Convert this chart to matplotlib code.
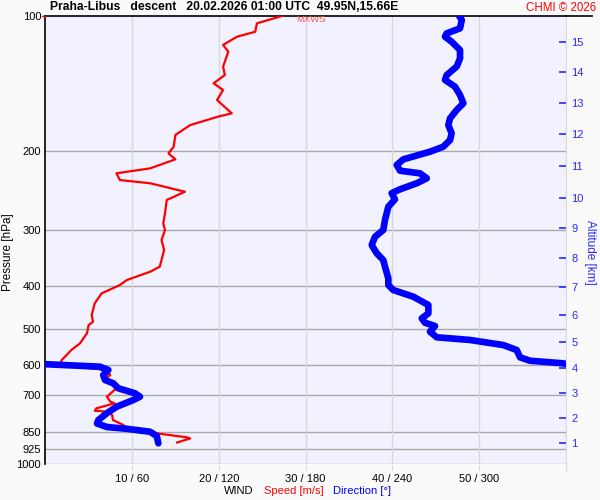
import matplotlib
matplotlib.use('Agg')
import matplotlib.pyplot as plt
from matplotlib.lines import Line2D
from matplotlib.ticker import NullLocator, FixedFormatter

plt.rcParams['font.family'] = ['Liberation Sans', 'DejaVu Sans']

# wind speed profile (pressure hPa, speed m/s)
spd_p = [100, 104.0, 108.6, 111.4, 116.2, 120.3, 129.9, 135.6, 141.5, 146.5,
         154.2, 165.1, 168.0, 175.4, 184.5, 196.0, 202.8, 209.1, 219.0, 224.7,
         232.6, 236.5, 247.0, 257.7, 275.9, 290.4, 300.6, 316.4, 333.1, 363.0,
         372.4, 388.7, 398.8, 416.2, 438.1, 465.3, 481.6, 489.8, 511.0, 538.1,
         556.9, 586.2, 598.4, 606.7, 614.9, 622.5, 633.2, 649.6, 660.7, 677.8,
         707.8, 726.1, 732.2, 751.2, 760.5, 764.4, 777.5, 797.8, 818.4, 836.7,
         854.1, 871.8, 877.2, 895.4]
spd_v = [27.4, 24.4, 24.2, 22.1, 20.5, 21.1, 20.5, 20.7, 19.4, 20.5,
         19.8, 21.5, 19.9, 16.7, 15.0, 14.8, 14.2, 15.0, 12.1, 8.2,
         8.6, 12.1, 16.1, 14.0, 13.8, 13.6, 13.8, 13.4, 13.7, 13.2,
         12.1, 9.4, 8.6, 6.5, 5.7, 5.35, 5.5, 5.0, 4.8, 4.0,
         3.0, 1.9, 1.7, 3.6, 6.3, 7.1, 7.5, 6.7, 7.5, 8.2,
         7.1, 7.5, 8.0, 5.9, 5.7, 7.1, 7.7, 7.8, 9.0, 9.6,
         12.8, 16.3, 16.7, 15.2]

# wind direction, upper part (before wrapping through north)
dir_p_up = [100, 102.2, 106.7, 109.5, 111.4, 114.3, 119.3, 124.5, 129.9, 135.6,
            139.1, 144.0, 150.3, 156.8, 162.3, 169.4, 175.4, 182.9, 189.4, 196.0,
            201.1, 209.1, 215.3, 221.7, 224.7, 230.5, 236.5, 243.9, 248.9, 256.8,
            266.7, 285.5, 300.6, 311.2, 324.8, 338.8, 350.8, 363.0, 385.3, 398.8,
            409.2, 423.5, 441.9, 461.3, 473.2, 484.1, 492.4, 506.8, 521.6, 528.9,
            542.8, 556.9, 578.1, 588.4, 596.3, 598.0]
dir_v_up = [286.2, 288.1, 286.9, 277.7, 276.5, 281.1, 286.9, 286.9, 284.6, 277.7,
            276.5, 283.4, 286.9, 289.2, 284.6, 280.0, 278.8, 281.1, 280.0, 275.3,
            266.1, 247.7, 243.1, 245.4, 259.2, 263.9, 256.9, 245.4, 239.6, 241.9,
            237.3, 235.0, 233.8, 228.1, 225.8, 229.3, 233.8, 235.0, 237.3, 237.3,
            240.7, 254.6, 265.0, 265.0, 260.4, 262.7, 269.6, 266.1, 270.8, 293.8,
            316.8, 326.1, 328.4, 335.3, 358.4, 360.0]

# wind direction, lower part
dir_p_lo = [599.0, 606.7, 617.0, 633.2, 649.6, 660.7, 677.8, 695.6, 707.8, 719.8,
            745.1, 770.7, 797.8, 812.2, 826.9, 834.6, 847.2, 866.0, 899.1]
dir_v_lo = [0.5, 37.8, 43.6, 40.1, 41.3, 47.0, 50.5, 62.1, 65.5, 60.9,
            49.4, 42.5, 36.7, 35.8, 42.5, 56.3, 72.4, 77.1, 78.2]

p_ticks = [100, 200, 300, 400, 500, 600, 700, 850, 925, 1000]
spd_ticks = [10, 20, 30, 40, 50]
x_labels = ['10 / 60', '20 / 120', '30 / 180', '40 / 240', '50 / 300']

alt_km = list(range(1, 16))
alt_p = [899.1, 790.8, 695.7, 611.6, 535.3, 465.3, 402.3, 347.7, 298.1,
         254.7, 216.4, 183.6, 156.8, 133.3, 114.3]

BLUE = '#0000FF'
LBLUE = '#2828FF'
GRID_H = '#A8A8A8'
GRID_V = '#D8D8D8'

fig = plt.figure(figsize=(6, 5), dpi=100, facecolor='#FAFAFA')
x0, x1 = 45.3, 565.7
y0, y1 = 15.7, 464.0
ax = fig.add_axes([x0 / 600, 1 - y1 / 500, (x1 - x0) / 600, (y1 - y0) / 500])
ax.set_facecolor('#F2F2FF')
ax.set_yscale('log')
ax.set_ylim(1000, 100)
ax.set_xlim(0, 60)

axd = ax.twiny()
axa = ax.twinx()

ax.set_yticks(p_ticks)
ax.yaxis.set_major_formatter(FixedFormatter([str(p) for p in p_ticks]))
ax.yaxis.set_minor_locator(NullLocator())
ax.tick_params(axis='y', labelsize=8, length=0, pad=3)
ax.set_xticks(spd_ticks)
ax.set_xticklabels(x_labels, fontsize=8)
ax.tick_params(axis='x', length=4, color=GRID_V, pad=3)

for p in p_ticks[1:]:
    ax.axhline(p, color=GRID_H, lw=1, zorder=1)
for s in spd_ticks:
    ax.axvline(s, color=GRID_V, lw=1, zorder=1)

for side in ['bottom', 'right']:
    ax.spines[side].set_visible(False)
ax.spines['left'].set_color('black')
ax.spines['left'].set_linewidth(1.2)
ax.spines['top'].set_color('black')
ax.spines['top'].set_linewidth(1.2)

ax.plot(spd_v, spd_p, color='red', lw=1.6, zorder=3)

# direction on its own 0-360 scale
axd.set_xlim(0, 360)
axd.plot(dir_v_up, dir_p_up, color=BLUE, lw=4.8, solid_capstyle='round',
         solid_joinstyle='round', zorder=4)
axd.plot(dir_v_lo, dir_p_lo, color=BLUE, lw=4.8, solid_capstyle='round',
         solid_joinstyle='round', zorder=4)
axd.set_xticks([])
for s in axd.spines.values():
    s.set_visible(False)

# altitude axis on the right
axa.set_yscale('log')
axa.set_ylim(1000, 100)
axa.set_yticks(alt_p)
axa.yaxis.set_major_formatter(FixedFormatter([str(a) for a in alt_km]))
axa.yaxis.set_minor_locator(NullLocator())
axa.tick_params(axis='y', direction='in', length=5, width=1.2, color=LBLUE,
                labelcolor=LBLUE, labelsize=8, pad=4)
for side in ['top', 'left', 'bottom']:
    axa.spines[side].set_visible(False)
axa.spines['right'].set_color(GRID_V)

fig.text(8 / 600, 1 - 252 / 500, 'Pressure [hPa]', fontsize=8.5, rotation=90,
         va='center', ha='center')
fig.text(590 / 600, 1 - 252 / 500, 'Altitude [km]', fontsize=8.5, rotation=270,
         color=LBLUE, va='center', ha='center')

# small red mark at 100 hPa, right grid edge below plot, top line extension
fig.add_artist(Line2D([42 / 600, x0 / 600], [1 - y0 / 500, 1 - y0 / 500],
                      color='red', lw=1))
fig.add_artist(Line2D([x1 / 600, x1 / 600], [1 - 470 / 500, 1 - y1 / 500],
                      color=GRID_V, lw=1))
fig.add_artist(Line2D([x1 / 600, 592 / 600], [1 - y0 / 500, 1 - y0 / 500],
                      color='black', lw=1.2))

fig.text(50 / 600, 1 - 7.5 / 500, 'Praha-Libus   descent   20.02.2026 01:00 UTC  49.95N,15.66E',
         fontsize=8.7, fontweight='bold', va='center', ha='left')
fig.text(596 / 600, 1 - 8 / 500, 'CHMI \u00a9 2026', color='red', fontsize=8.3,
         va='center', ha='right')
fig.text(296 / 600, 1 - 19.5 / 500, 'MXWS', color='#FF5050', fontsize=6.8,
         va='center', ha='left', zorder=10)

fig.text(253 / 600, 1 - 491 / 500, 'WIND', fontsize=8, va='center', ha='right')
fig.text(264 / 600, 1 - 491 / 500, 'Speed [m/s]', fontsize=8, color='red',
         va='center', ha='left')
fig.text(333 / 600, 1 - 491 / 500, 'Direction [\u00b0]', fontsize=8, color=BLUE,
         va='center', ha='left')

fig.savefig('out.png', dpi=100, facecolor=fig.get_facecolor())
